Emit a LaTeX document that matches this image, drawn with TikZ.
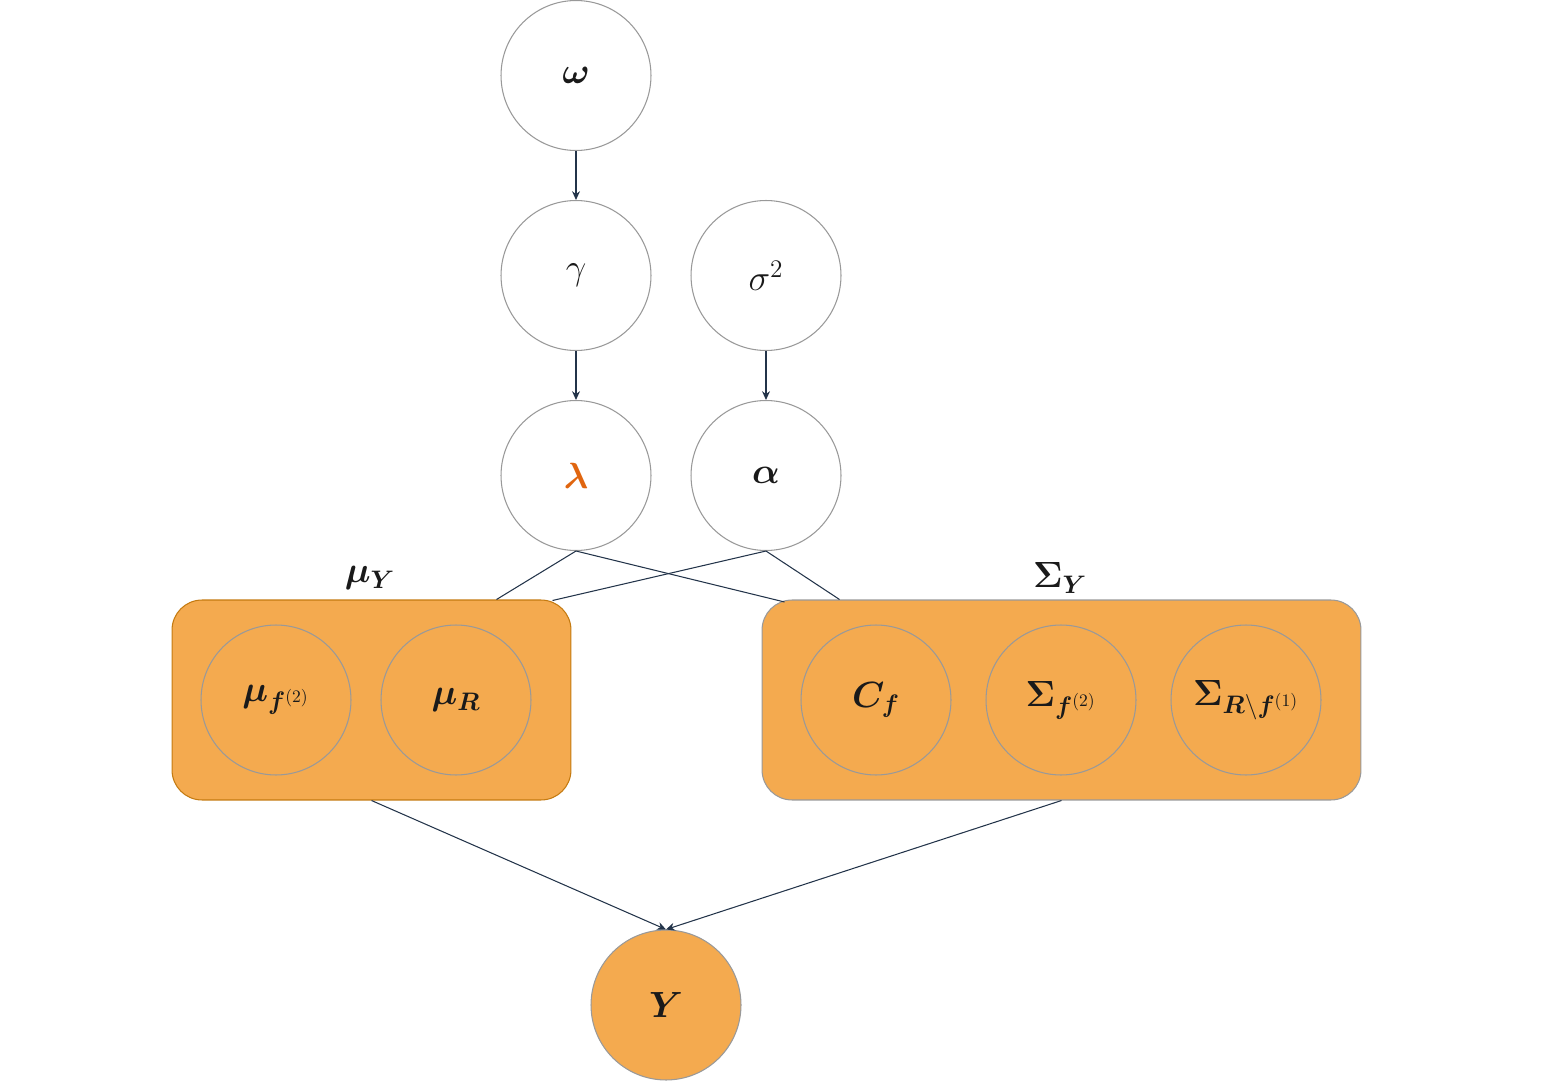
\documentclass[tikz,border=0pt]{standalone}
\usepackage{amsmath,bm}
\usetikzlibrary{arrows.meta,calc}
\definecolor{nodeorange}{HTML}{F4AA4F}
\definecolor{boxedge}{HTML}{C47A10}
\definecolor{circedge}{HTML}{999999}
\definecolor{lineblue}{HTML}{23344A}
\definecolor{lamorange}{HTML}{E0650F}
\definecolor{txt}{HTML}{1A1A1A}
\begin{document}
\begin{tikzpicture}[x=0.02cm,y=-0.02cm,
  var/.style={circle,draw=circedge,line width=0.6pt,minimum size=3cm,inner sep=0pt,text=txt,font=\fontsize{20}{22}\selectfont},
  filled/.style={var,fill=nodeorange},
  inner/.style={var,draw=circedge},
  group/.style={rectangle,rounded corners=0.6cm,fill=nodeorange,line width=0.6pt,minimum height=4cm,inner sep=0pt},
  grplabel/.style={text=txt,font=\fontsize{20}{22}\selectfont},
  edge/.style={draw=lineblue,line width=0.6pt},
  arr/.style={edge,-{Stealth[length=5pt,width=4.5pt]}}]
\useasboundingbox (0,0) rectangle (1556,1081);
\node[var] (omega) at (576,75.5) {$\bm{\omega}$};
\node[var] (gamma) at (576,275.5) {$\gamma$};
\node[var] (sigma) at (766,275.5) {$\sigma^2$};
\node[var] (lambda) at (576,475.5) {$\color{lamorange}\bm{\lambda}$};
\node[var] (alpha) at (766,475.5) {$\bm{\alpha}$};
\node[group,draw=boxedge,minimum width=7.98cm] (lbox) at (371.5,700) {};
\node[group,draw=circedge,minimum width=11.98cm] (rbox) at (1061.5,700) {};
\node[grplabel] (lblL) at (370,578) {$\bm{\mu}_{\bm{Y}}$};
\node[grplabel] (lblR) at (1060,578) {$\bm{\Sigma}_{\bm{Y}}$};
\node[inner] (muf) at (276,700) {$\bm{\mu}_{\bm{f}^{(2)}}$};
\node[inner] (muR) at (456,700) {$\bm{\mu}_{\bm{R}}$};
\node[inner] (Cf) at (876,700) {$\bm{C}_{\bm{f}}$};
\node[inner] (Sf) at (1061,700) {$\bm{\Sigma}_{\bm{f}^{(2)}}$};
\node[inner] (SR) at (1246,700) {$\bm{\Sigma}_{\bm{R}\setminus\bm{f}^{(1)}}$};
\node[filled] (Y) at (666,1005) {$\bm{Y}$};
\coordinate (lA) at ($(lbox.north west)+(325,0)$);
\coordinate (lB) at ($(lbox.north west)+(381,1)$);
\coordinate (rA) at ($(rbox.north west)+(23,2.5)$);
\coordinate (rB) at ($(rbox.north west)+(78,0)$);
\draw[arr] (omega) -- (gamma);
\draw[arr] (gamma) -- (lambda);
\draw[arr] (sigma) -- (alpha);
\draw[edge] (lambda.south) -- (lA);
\draw[edge] (lambda.south) -- (rA);
\draw[edge] (alpha.south) -- (lB);
\draw[edge] (alpha.south) -- (rB);
\draw[arr] (lbox.south) -- (Y.north);
\draw[arr] (rbox.south) -- (Y.north);
\end{tikzpicture}
\end{document}
